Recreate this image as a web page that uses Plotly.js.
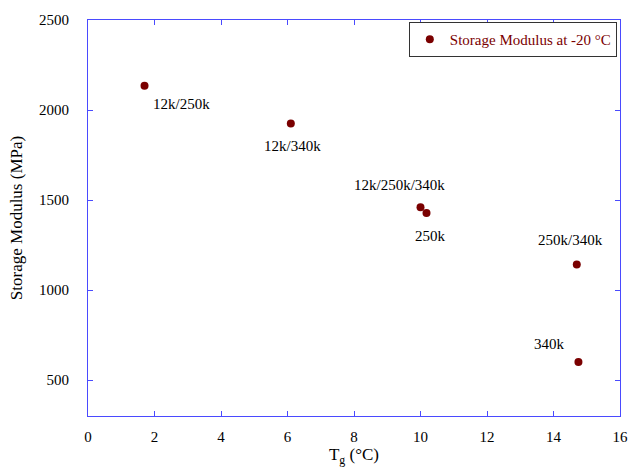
<!DOCTYPE html>
<html>
<head>
<meta charset="utf-8">
<script src="https://cdn.plot.ly/plotly-3.0.1.min.js"></script>
<style>html,body{margin:0;padding:0;background:#fff}#chart{width:631px;height:467px}</style>
</head>
<body>
<div id="chart"></div>
<script>
// Glass transition temperature vs storage modulus for each blend
const tg = [1.7, 6.1, 10.0, 10.18, 14.7, 14.75];
const modulus = [2135, 1925, 1460, 1428, 1142, 600];
const blends = ['12k/250k', '12k/340k', '12k/250k/340k', '250k', '250k/340k', '340k'];
// label offsets in pixels relative to each point
const labelDx = [37, 2, -21, 4, -6, -29];
const labelDy = [-18, -22, 22, -23, 24, 18];

const axisColor = '#4a4aff';
const serif = 'Liberation Serif';

const trace = {
  x: tg, y: modulus, mode: 'markers', type: 'scatter',
  name: 'Storage Modulus at -20 °C',
  marker: {color: '#7a0000', size: 8}
};

const annotations = blends.map((t, i) => ({
  x: tg[i], y: modulus[i], xref: 'x', yref: 'y', text: t,
  showarrow: false, xshift: labelDx[i], yshift: labelDy[i],
  font: {family: serif, size: 15, color: '#000'}
}));

const axisCommon = {
  showline: true, linecolor: axisColor, linewidth: 1, mirror: 'ticks',
  ticks: 'inside', ticklen: 5, tickcolor: axisColor, tickwidth: 1,
  showgrid: false, zeroline: false,
  tickfont: {family: serif, size: 15, color: '#000'}
};

const layout = {
  width: 631, height: 467,
  margin: {l: 88, r: 11, t: 20, b: 51},
  paper_bgcolor: '#fff', plot_bgcolor: '#fff',
  font: {family: serif},
  showlegend: true,
  legend: {
    x: 0.994, y: 0.995, xanchor: 'right', yanchor: 'top',
    bordercolor: '#333', borderwidth: 1, bgcolor: '#fff',
    font: {family: serif, size: 15, color: '#7a0000'}
  },
  xaxis: Object.assign({}, axisCommon, {
    range: [0, 16], tickvals: [0, 2, 4, 6, 8, 10, 12, 14, 16],
    ticklabelstandoff: 7,
    title: {text: 'T<sub>g</sub> (°C)', font: {family: serif, size: 17, color: '#000'}, standoff: 2}
  }),
  yaxis: Object.assign({}, axisCommon, {
    range: [300, 2500], tickvals: [500, 1000, 1500, 2000, 2500],
    ticklabelstandoff: 15,
    title: {text: 'Storage Modulus (MPa)', font: {family: serif, size: 17, color: '#000'}, standoff: 12}
  }),
  annotations: annotations
};

Plotly.newPlot('chart', [trace], layout, {displayModeBar: false, staticPlot: true});
</script>
</body>
</html>
